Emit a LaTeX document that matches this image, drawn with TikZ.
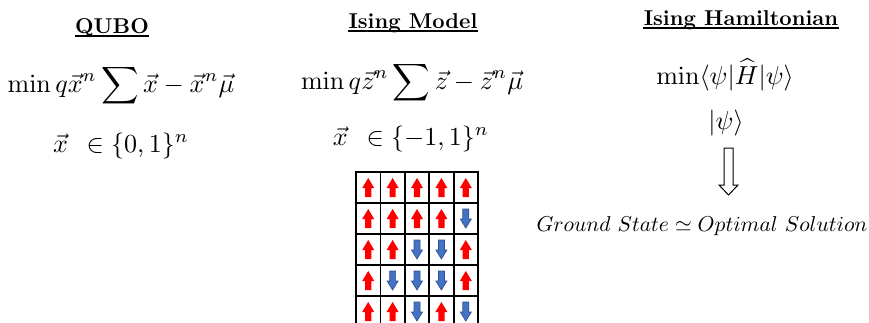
\documentclass[tikz,border=0pt]{standalone}
\usepackage{amsmath}
\definecolor{spinred}{HTML}{FF0000}
\definecolor{spinblue}{HTML}{4472C4}
\definecolor{spinblueline}{HTML}{2F528F}
\begin{document}
\begin{tikzpicture}[x=1pt,y=-1pt,
  title/.style={font=\bfseries, scale=2.15, inner sep=0pt, anchor=base},
  eq/.style={scale=2.6, inner sep=0pt, anchor=base},
  gs/.style={scale=2.15, inner sep=0pt, anchor=base},
  uline/.style={line width=1.1pt},
  gridline/.style={line width=1.8pt, black},
  hollow/.style={draw=black, line width=1pt, fill=white, line join=miter},
  uparrow/.pic={\fill[spinred] (0,-9.5) -- (6,0.5) -- (3.1,0.5) -- (3.1,9.5) -- (-3.1,9.5) -- (-3.1,0.5) -- (-6,0.5) -- cycle;},
  downarrow/.pic={\filldraw[fill=spinblue, draw=spinblueline, line width=0.7pt] (0,9.5) -- (5.5,0.5) -- (3,0.5) -- (3,-9.5) -- (-3,-9.5) -- (-3,0.5) -- (-5.5,0.5) -- cycle;}
]
\useasboundingbox (0,0) rectangle (869,322);

% titles
\node[title] (t1) at (112,33) {QUBO};
\node[title] (t2) at (413,28) {Ising Model};
\node[title] (t3) at (741,25) {Ising Hamiltonian};
\foreach \t in {t1,t2,t3}
  \draw[uline] ([yshift=-3pt]\t.base west) -- ([yshift=-3pt]\t.base east);

% QUBO
\node[eq] (q1) at (121,92) {$\displaystyle \min q\vec{x}^{n}\sum\vec{x}-\vec{x}^{n}\vec{\mu}$};
\node[eq] (q2) at (121,152) {$\vec{x}\;\,\in\{0,1\}^{n}$};

% Ising model
\node[eq] (i1) at (412,89) {$\displaystyle \min q\vec{z}^{n}\sum\vec{z}-\vec{z}^{n}\vec{\mu}$};
\node[eq] (i2) at (411,145) {$\vec{x}\;\,\in\{-1,1\}^{n}$};

% Hamiltonian
\node[eq] (h1) at (725,84) {$\min\langle\psi|\widehat{H}|\psi\rangle$};
\node[eq] (h2) at (726,129) {$|\psi\rangle$};
\node[gs] (h3) at (702,231) {$Ground\ State\simeq Optimal\ Solution$};

% hollow arrow
\coordinate (ha) at (728.5,148);
\draw[hollow] ([xshift=-4.5pt]ha) -- ([xshift=4.5pt]ha) -- ++(0,37) -- ++(5,0) -- ++(-9.5,10) -- ++(-9.5,-10) -- ++(5,0) -- cycle;

% spin grid
\begin{scope}
\clip (340,160) rectangle (500,322);
\foreach \row [count=\r from 0] in {{1,1,1,1,1},{1,1,1,1,0},{1,1,0,0,1},{1,0,0,0,1},{1,1,0,1,0}}{
  \foreach \v [count=\k from 0] in \row {
    \ifnum\v=1
      \pic at ({368.2+\k*24.4},{187.5+\r*31}) {uparrow};
    \else
      \pic at ({368.2+\k*24.4},{187.5+\r*31}) {downarrow};
    \fi
  }
}
\foreach \k in {0,...,5}
  \draw[gridline] ({356+\k*24.4},171.1) -- ({356+\k*24.4},330);
\foreach \r in {0,...,5}
  \draw[gridline] (355.1,{172+\r*31}) -- (478.9,{172+\r*31});
\end{scope}
\end{tikzpicture}
\end{document}
